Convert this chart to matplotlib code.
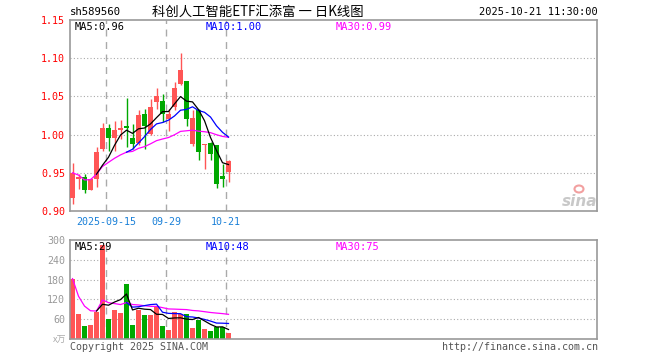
import matplotlib
matplotlib.use('Agg')
import matplotlib.pyplot as plt
import numpy as np
import pandas as pd
from matplotlib.patches import Ellipse

# ---------------- data ----------------
dates = ['2025-09-05', '2025-09-08', '2025-09-09', '2025-09-10', '2025-09-11', '2025-09-12',
         '2025-09-15', '2025-09-16', '2025-09-17', '2025-09-18', '2025-09-19', '2025-09-22',
         '2025-09-23', '2025-09-24', '2025-09-25', '2025-09-26', '2025-09-29', '2025-09-30',
         '2025-10-09', '2025-10-10', '2025-10-13', '2025-10-14', '2025-10-15', '2025-10-16',
         '2025-10-17', '2025-10-20', '2025-10-21']
opens = [0.917, 0.942, 0.945, 0.928, 0.942, 0.981, 1.009, 0.996, 1.006, 1.011, 0.995, 0.989,
         1.027, 1.001, 1.043, 1.044, 1.020, 1.036, 1.066, 1.070, 0.988, 1.032, 0.987, 0.989,
         0.986, 0.946, 0.951]
highs = [0.963, 0.948, 0.948, 0.943, 0.984, 1.015, 1.014, 1.018, 1.019, 1.048, 1.014, 1.032,
         1.034, 1.047, 1.061, 1.053, 1.033, 1.069, 1.107, 1.070, 1.032, 1.034, 0.988, 0.990,
         0.986, 0.962, 0.967]
lows = [0.909, 0.929, 0.924, 0.928, 0.932, 0.979, 0.979, 0.979, 0.994, 0.984, 0.981, 0.986,
        0.981, 0.999, 1.034, 1.016, 1.005, 1.032, 1.065, 1.011, 0.985, 0.967, 0.955, 0.967,
        0.930, 0.932, 0.938]
closes = [0.950, 0.944, 0.928, 0.942, 0.977, 1.009, 0.996, 1.006, 1.009, 1.009, 0.988, 1.026,
          1.011, 1.036, 1.050, 1.027, 1.027, 1.061, 1.084, 1.020, 1.022, 0.977, 0.988, 0.974,
          0.935, 0.942, 0.965]
volumes = [183, 76, 40, 43, 82, 285, 62, 88, 80, 167, 43, 88, 74, 74, 96, 40, 27, 82, 76, 76,
           34, 58, 30, 24, 36, 36, 18]

tick_idx = [6, 16, 26]
tick_labels = ['2025-09-15', '09-29', '10-21']
price_ticks = [0.90, 0.95, 1.00, 1.05, 1.10, 1.15]
vol_ticks = [60, 120, 180, 240, 300]
vol_tick_labels = ['60', '120', '180', '240', '300']

code = 'sh589560'
title = '科创人工智能ETF汇添富 一 日K线图'
stamp = '2025-10-21 11:30:00'
price_legend = ['MA5:0.96', 'MA10:1.00', 'MA30:0.99']
vol_legend = ['MA5:29', 'MA10:48', 'MA30:75']

# ---------------- style ----------------
W, H = 660, 360
RED = '#ff5555'
GREEN = '#00a800'
BOX = '#999999'
GRID = '#aaaaaa'
MONO = ['DejaVu Sans Mono']
CJK = ['Noto Sans CJK SC', 'DejaVu Sans']
FS = 7.2

o = np.array(opens); c = np.array(closes); h = np.array(highs); l = np.array(lows)
v = np.array(volumes)
x = np.arange(len(dates))
up = c >= o
cols = np.where(up, RED, GREEN)

cs = pd.Series(c)
vs = pd.Series(v, dtype=float)
ma5 = cs.rolling(5).mean(); ma10 = cs.rolling(10).mean(); ma30 = cs.rolling(30, min_periods=1).mean()
vma5 = vs.rolling(5).mean(); vma10 = vs.rolling(10).mean(); vma30 = vs.rolling(30, min_periods=1).mean()

fig = plt.figure(figsize=(W / 100, H / 100), dpi=100)
fig.patch.set_facecolor('white')

def px_axes(left, top, right, bottom):
    return fig.add_axes([left / W, 1 - bottom / H, (right - left) / W, (bottom - top) / H])

ax = px_axes(70, 20, 597, 211)
axv = px_axes(70, 240, 597, 339)

xlim = (-0.42, 87.42)
grid_x = np.array(tick_idx) - 0.4

for a in (ax, axv):
    a.set_xlim(*xlim)
    for s in a.spines.values():
        s.set_color(BOX)
        s.set_linewidth(1.2)
    a.tick_params(length=0)
    for gx in grid_x:
        a.axvline(gx, color=GRID, lw=1.0, ls=(0, (5, 4)), zorder=0)

# ---- price panel ----
ax.set_ylim(0.90, 1.15)
ax.set_yticks(price_ticks, [f'{t:.2f}' for t in price_ticks])
for t in ax.get_yticklabels():
    t.set_color('#ff0000'); t.set_fontfamily(MONO); t.set_fontsize(FS)
ax.tick_params(axis='y', pad=3.6)
for yv in price_ticks[1:-1]:
    ax.axhline(yv, color=GRID, lw=0.8, ls=(0, (1, 2)), zorder=0)
ax.set_xticks(grid_x, tick_labels)
for t in ax.get_xticklabels():
    t.set_color('#1a80d8'); t.set_fontfamily(MONO); t.set_fontsize(FS)
ax.tick_params(axis='x', pad=4.5)

body_low = np.minimum(o, c)
body_h = np.maximum(np.abs(c - o), 0.0012)
ax.vlines(x, l, h, colors=cols, lw=1.0, zorder=2)
ax.bar(x, body_h, bottom=body_low, width=0.83, color=cols, lw=0, zorder=3)
ax.plot(x, ma30, color='#ff00ff', lw=0.9, zorder=4)
ax.plot(x, ma10, color='#0000ff', lw=0.9, zorder=4)
ax.plot(x, ma5, color='#000000', lw=0.9, zorder=4)

# ---- volume panel ----
axv.set_ylim(0, 300)
axv.set_yticks(vol_ticks, vol_tick_labels)
for t in axv.get_yticklabels():
    t.set_color('#999999'); t.set_fontfamily(MONO); t.set_fontsize(FS)
axv.tick_params(axis='y', pad=3.6)
axv.set_xticks([])
for yv in vol_ticks[:-1]:
    axv.axhline(yv, color=GRID, lw=0.8, ls=(0, (1, 2)), zorder=0)
axv.bar(x, v, width=0.83, color=cols, lw=0, zorder=2)
axv.plot(x, vma30, color='#ff00ff', lw=0.9, zorder=4)
axv.plot(x, vma10, color='#0000ff', lw=0.9, zorder=4)
axv.plot(x, vma5, color='#000000', lw=0.9, zorder=4)

# ---- texts ----
def ftext(px, py, s, **kw):
    fig.text(px / W, 1 - py / H, s, **kw)

ftext(70, 12, code, family=MONO, fontsize=FS + 0.5, color='#000000', va='center', ha='left')
ftext(258, 12, title, family=CJK, fontsize=9.6, color='#000000', va='center', ha='center')
ftext(598, 12, stamp, family=MONO, fontsize=FS + 0.3, color='#000000', va='center', ha='right')

leg_cols = ['#000000', '#0000ff', '#ff00ff']
leg_x = [75, 206, 336]
for s, cc, lx in zip(price_legend, leg_cols, leg_x):
    ftext(lx, 27, s, family=MONO, fontsize=FS + 0.3, color=cc, va='center', ha='left')
for s, cc, lx in zip(vol_legend, leg_cols, leg_x):
    ftext(lx, 247, s, family=MONO, fontsize=FS + 0.3, color=cc, va='center', ha='left')

ftext(66, 340, 'x万', family=CJK, fontsize=6.5, color='#aaaaaa', va='center', ha='right')
ftext(70, 347, 'Copyright 2025 SINA.COM', family=MONO, fontsize=FS, color='#555555', va='center', ha='left')
ftext(598, 347, 'http://finance.sina.com.cn', family=MONO, fontsize=FS, color='#555555', va='center', ha='right')

# sina watermark
ftext(597, 201, 'sina', family=['DejaVu Sans'], fontsize=11, fontstyle='italic', fontweight='bold',
      color='#c8c8c8', va='center', ha='right')
fig.patches.append(Ellipse((579 / W, 1 - 189 / H), 9 / W, 7 / H, transform=fig.transFigure,
                           facecolor='none', edgecolor='#f2a0a0', lw=1.5))

fig.savefig('out.png', dpi=100, facecolor='white')
